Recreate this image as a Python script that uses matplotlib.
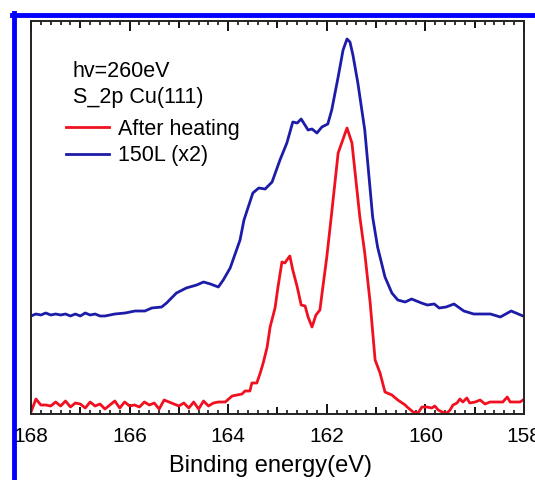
import matplotlib
matplotlib.use('Agg')
import matplotlib.pyplot as plt
import matplotlib.ticker as ticker
from matplotlib.lines import Line2D

plt.rcParams['font.family'] = ['Liberation Sans', 'DejaVu Sans']

# binding energy (eV) and intensity (arb. units)
after_e = [168.0, 167.9, 167.8, 167.7, 167.6, 167.5, 167.4, 167.3, 167.2, 167.1,
           167.0, 166.9, 166.8, 166.7, 166.6, 166.5, 166.4, 166.3, 166.2, 166.1,
           166.0, 165.9, 165.8, 165.7, 165.6, 165.5, 165.4, 165.3, 165.2, 165.1,
           165.0, 164.9, 164.8, 164.7, 164.6, 164.5, 164.4, 164.3, 164.2, 164.06,
           163.92, 163.72, 163.66, 163.56, 163.52, 163.42, 163.35, 163.29, 163.21, 163.15,
           163.05, 162.99, 162.91, 162.85, 162.81, 162.75, 162.69, 162.60, 162.52, 162.44,
           162.38, 162.30, 162.22, 162.14, 162.08, 162.00, 161.91, 161.77, 161.59, 161.49,
           161.33, 161.23, 161.12, 161.02, 160.92, 160.82, 160.68, 160.56, 160.41, 160.37,
           160.25, 160.15, 160.07, 159.97, 159.87, 159.81, 159.74, 159.66, 159.56, 159.50,
           159.44, 159.36, 159.30, 159.24, 159.16, 159.10, 158.99, 158.89, 158.79, 158.69,
           158.59, 158.49, 158.43, 158.34, 158.28, 158.18, 158.08, 158.02]
after_i = [2, 15, 9, 9, 8, 12, 8, 13, 7, 11,
           10, 6, 12, 8, 10, 5, 9, 13, 6, 12,
           8, 9, 7, 12, 9, 11, 5, 14, 12, 10,
           8, 11, 6, 12, 5, 13, 8, 11, 12, 12,
           18, 20, 23, 23, 31, 31, 41, 51, 67, 87,
           106, 127, 152, 151, 154, 158, 144, 127, 109, 108,
           97, 87, 99, 104, 127, 157, 197, 261, 286, 271,
           197, 161, 111, 54, 41, 22, 19, 14, 9, 7,
           2, 1, 7, 7, 6, 8, 4, 2, 1, 4,
           9, 11, 15, 12, 16, 11, 12, 14, 10, 12,
           12, 12, 12, 17, 12, 12, 12, 14]

dose_e = [168.0, 167.9, 167.8, 167.7, 167.6, 167.5, 167.4, 167.3, 167.2, 167.1,
          167.0, 166.9, 166.8, 166.7, 166.6, 166.5, 166.4, 166.3, 166.09, 165.89,
          165.69, 165.55, 165.35, 165.25, 165.05, 164.85, 164.64, 164.50, 164.36, 164.2,
          164.10, 163.96, 163.76, 163.68, 163.50, 163.38, 163.25, 163.11, 162.95, 162.81,
          162.69, 162.60, 162.52, 162.38, 162.30, 162.20, 162.10, 161.98, 161.90, 161.77,
          161.67, 161.59, 161.53, 161.47, 161.37, 161.23, 161.07, 160.97, 160.82, 160.68,
          160.56, 160.41, 160.28, 160.08, 159.96, 159.82, 159.72, 159.58, 159.42, 159.22,
          159.02, 158.68, 158.48, 158.26, 158.02]
dose_i = [98, 100, 99, 101, 99, 100, 99, 100, 98, 100,
          98, 101, 99, 100, 98, 98, 99, 100, 101, 103,
          103, 106, 107, 111, 121, 126, 129, 132, 130, 127,
          134, 146, 174, 194, 221, 226, 225, 232, 254, 271,
          292, 291, 295, 284, 285, 281, 287, 290, 304, 337,
          364, 375, 372, 359, 331, 284, 197, 167, 137, 121,
          114, 112, 115, 111, 109, 110, 106, 107, 110, 103,
          100, 100, 97, 103, 98]

fig = plt.figure(figsize=(5.35, 4.8), dpi=100)
ax = fig.add_axes([31/535, 66/480, 493/535, 393/480])

ax.plot(after_e, after_i, color='#f01020', lw=2.0, label='After heating')
ax.plot(dose_e, dose_i, color='#1c1ca8', lw=2.0, label='150L (x2)')

ax.set_xlim(168, 158)
ax.set_ylim(0, 393)
ax.set_yticks([])
ax.xaxis.set_major_locator(ticker.MultipleLocator(1))
ax.xaxis.set_major_formatter(ticker.FuncFormatter(lambda v, p: '%d' % v if round(v) % 2 == 0 else ''))
ax.xaxis.set_minor_locator(ticker.MultipleLocator(0.2))
ax.tick_params(axis='x', which='both', direction='in', top=True, bottom=True, labelsize=15, pad=9)
ax.tick_params(axis='x', which='major', length=7.5, width=1.3)
ax.tick_params(axis='x', which='minor', length=3.2, width=1.1)
for s in ax.spines.values():
    s.set_linewidth(1.4)
    s.set_color('#222222')

# odd integers get a shorter tick
fig.canvas.draw()
for t in ax.xaxis.get_major_ticks():
    if round(t.get_loc()) % 2 == 1:
        t.tick1line.set_markersize(5)
        t.tick2line.set_markersize(5)

ax.set_xlabel('Binding energy(eV)', fontsize=17)
ax.xaxis.set_label_coords(0.485, -0.105)

fig.text(73/535, 1 - 77/480, 'hv=260eV', fontsize=15.5, va='baseline')
fig.text(73/535, 1 - 103/480, 'S_2p Cu(111)', fontsize=15.5, va='baseline')
ax.legend(loc='upper left', bbox_to_anchor=(66/535, 1 - 119/480), bbox_transform=fig.transFigure,
          frameon=False, fontsize=15.5, handlelength=2.0, handletextpad=0.4, labelspacing=0.25,
          borderpad=0, borderaxespad=0)

# blue frame on top and left edges
fig.add_artist(Line2D([12/535, 1], [1 - 15/480, 1 - 15/480], color='#0000ff', lw=3.5, transform=fig.transFigure))
fig.add_artist(Line2D([14/535, 14/535], [0, 1 - 13/480], color='#0000ff', lw=3.5, transform=fig.transFigure))

fig.savefig('out.png', dpi=100)
